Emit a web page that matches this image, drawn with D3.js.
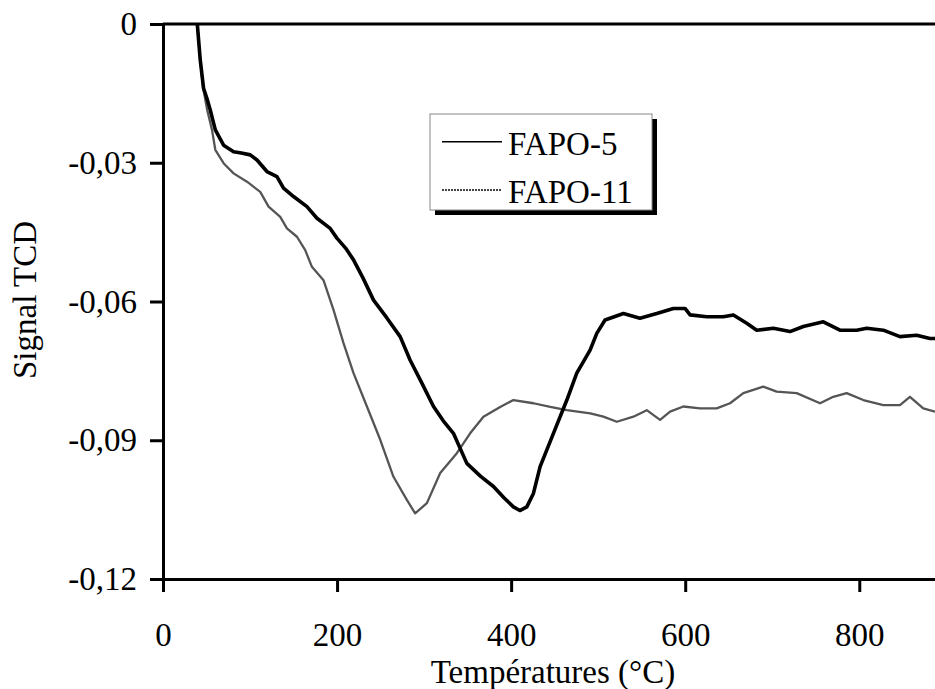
<!DOCTYPE html>
<html>
<head>
<meta charset="utf-8">
<script src="https://cdn.jsdelivr.net/npm/d3@7/dist/d3.min.js"></script>
<style>
  html, body { margin: 0; padding: 0; background: #fff; }
  svg { display: block; }
  text { font-family: "Times New Roman", "Liberation Serif", "DejaVu Serif", serif; fill: #000; }
</style>
</head>
<body>
<svg id="chart" width="935" height="689"></svg>
<script>
// ---- Data ----
const seriesNames = ["FAPO-5", "FAPO-11"];
const xTicks = [0, 200, 400, 600, 800];
const yTicks = [0, -0.03, -0.06, -0.09, -0.12];
const xLabel = "Températures (°C)";
const yLabel = "Signal TCD";

const fapo5Temp = [39.4, 42.8, 46.6, 50.5, 54.3, 60.1, 69.6, 81.1, 90, 100.3, 108, 119.4, 130.9, 138.5, 150, 165.4, 176.9, 192.1, 199.8, 210, 218.9, 230, 241.9, 257, 272.5, 284.0, 297, 310.8, 322, 333.7, 349.1, 365, 379.7, 392, 402.6, 410, 418.0, 425.6, 433.3, 448.6, 464.0, 475.4, 490.7, 498.4, 507.9, 529, 548, 567.3, 586.4, 599.8, 605.6, 624.8, 643.8, 655.3, 670.7, 682.2, 701.3, 720.4, 735.7, 758.7, 777.8, 797, 808.5, 827.6, 846.7, 865.9, 881.2, 887];
const fapo5Signal = [0, -0.0078, -0.0139, -0.0161, -0.0186, -0.0229, -0.0262, -0.0276, -0.0279, -0.0283, -0.0294, -0.0319, -0.0330, -0.0355, -0.0373, -0.0395, -0.0420, -0.0442, -0.0463, -0.0485, -0.0510, -0.0550, -0.0597, -0.0635, -0.0676, -0.0727, -0.0775, -0.0827, -0.0858, -0.0885, -0.0950, -0.0978, -0.1000, -0.1025, -0.1044, -0.1052, -0.1044, -0.1015, -0.0957, -0.0885, -0.0813, -0.0755, -0.0705, -0.0669, -0.0640, -0.0626, -0.0636, -0.0626, -0.0615, -0.0615, -0.0629, -0.0633, -0.0633, -0.0629, -0.0647, -0.0662, -0.0658, -0.0665, -0.0654, -0.0644, -0.0662, -0.0662, -0.0658, -0.0662, -0.0676, -0.0673, -0.0680, -0.0680];

const fapo11Temp = [39.4, 42.8, 46.2, 50.8, 56.3, 60.1, 69.6, 81.1, 96.5, 111.7, 121.3, 134.7, 142.4, 153.9, 163.4, 171.1, 184.4, 195.9, 207.4, 218.9, 234.3, 249.6, 264.8, 280.2, 289.7, 303.2, 318.5, 337.6, 352.9, 368.2, 387.4, 402.6, 425.6, 445, 464, 490.9, 506, 521.4, 540.5, 555.8, 571.1, 582.6, 597.9, 617, 636.2, 651.5, 666.8, 689.7, 705.1, 728.1, 754.9, 770.1, 785.5, 804.6, 827.6, 846.7, 858.2, 873.5, 887];
const fapo11Signal = [0, -0.0078, -0.0139, -0.0186, -0.0229, -0.0272, -0.0301, -0.0323, -0.0341, -0.0363, -0.0395, -0.0417, -0.0442, -0.0460, -0.0489, -0.0525, -0.0554, -0.0618, -0.0690, -0.0755, -0.0827, -0.0899, -0.0979, -0.1029, -0.1058, -0.1036, -0.0971, -0.0928, -0.0885, -0.0849, -0.0828, -0.0813, -0.0820, -0.0828, -0.0835, -0.0842, -0.0849, -0.0860, -0.0849, -0.0835, -0.0856, -0.0838, -0.0827, -0.0831, -0.0831, -0.0820, -0.0798, -0.0784, -0.0795, -0.0798, -0.0820, -0.0806, -0.0798, -0.0813, -0.0824, -0.0824, -0.0806, -0.0831, -0.0838];

(function () {
// ---- Layout ----
const svg = d3.select("#chart");
const mLeft = 163, mRight = 935, mTop = 24, mBottom = 579;
const xMax = 887;
const x = d3.scaleLinear().domain([0, xMax]).range([mLeft, mRight]);
const y = d3.scaleLinear().domain([-0.12, 0]).range([mBottom, mTop]);
const fontSize = 33;
const fontFam = '"Times New Roman", "Liberation Serif", serif';

const fmt = v => v === 0 ? "0" : d3.format(".2f")(v).replace("−", "-").replace(".", ",");

// top border line at y=0
svg.append("line")
  .attr("x1", mLeft).attr("x2", mRight)
  .attr("y1", y(0)).attr("y2", y(0))
  .attr("stroke", "#000").attr("stroke-width", 3);

// Y axis
const yAxis = svg.append("g")
  .attr("transform", `translate(${mLeft},0)`)
  .call(d3.axisLeft(y).tickValues(yTicks).tickFormat(fmt).tickSize(13).tickSizeOuter(0).tickPadding(13));
// X axis
const xAxis = svg.append("g")
  .attr("transform", `translate(0,${mBottom})`)
  .call(d3.axisBottom(x).tickValues(xTicks).tickFormat(d3.format("d")).tickSize(13).tickSizeOuter(0).tickPadding(31));

[yAxis, xAxis].forEach(g => {
  g.attr("font-size", null).attr("font-family", null);
  g.select(".domain").attr("stroke", "#000").attr("stroke-width", 3);
  g.selectAll(".tick line").attr("stroke", "#000").attr("stroke-width", 3);
  g.selectAll(".tick text")
    .attr("fill", "#000")
    .style("font-family", fontFam)
    .style("font-size", fontSize + "px");
});

// Axis titles
svg.append("text")
  .attr("x", 553).attr("y", 683)
  .attr("text-anchor", "middle")
  .style("font-family", fontFam)
  .style("font-size", fontSize + "px")
  .text(xLabel);
svg.append("text")
  .attr("transform", "translate(36,300) rotate(-90)")
  .attr("text-anchor", "middle")
  .style("font-family", fontFam)
  .style("font-size", fontSize + "px")
  .text(yLabel);

// Lines
const line = d3.line().x(d => x(d[0])).y(d => y(d[1]));
const fapo11 = fapo11Temp.map((t, i) => [t, fapo11Signal[i]]);
const fapo5 = fapo5Temp.map((t, i) => [t, fapo5Signal[i]]);
const styles = { "FAPO-5": { color: "#000", width: 3.6 }, "FAPO-11": { color: "#555", width: 2.3 } };

svg.append("path").datum(fapo11)
  .attr("d", line).attr("fill", "none")
  .attr("stroke", styles["FAPO-11"].color).attr("stroke-width", styles["FAPO-11"].width)
  .attr("stroke-linejoin", "round");
svg.append("path").datum(fapo5)
  .attr("d", line).attr("fill", "none")
  .attr("stroke", styles["FAPO-5"].color).attr("stroke-width", styles["FAPO-5"].width)
  .attr("stroke-linejoin", "round");

// Legend
const lg = svg.append("g");
const lx = 430, ly = 114, lw = 222, lh = 96;
lg.append("rect").attr("x", lx + 5).attr("y", ly + 5).attr("width", lw).attr("height", lh).attr("fill", "#000");
lg.append("rect").attr("x", lx).attr("y", ly).attr("width", lw).attr("height", lh)
  .attr("fill", "#fff").attr("stroke", "#888").attr("stroke-width", 1);
const legendRows = [141.7, 190];
seriesNames.forEach((name, i) => {
  const yy = legendRows[i];
  lg.append("line").attr("x1", 442).attr("x2", 502).attr("y1", yy).attr("y2", yy)
    .attr("stroke", name === "FAPO-5" ? "#000" : "#444")
    .attr("stroke-width", name === "FAPO-5" ? 1.5 : 2)
    .attr("stroke-dasharray", name === "FAPO-5" ? null : "2,1");
  lg.append("text").attr("x", 508).attr("y", yy + 13)
    .style("font-family", fontFam)
    .style("font-size", fontSize + "px").text(name);
});
})();
</script>
</body>
</html>
